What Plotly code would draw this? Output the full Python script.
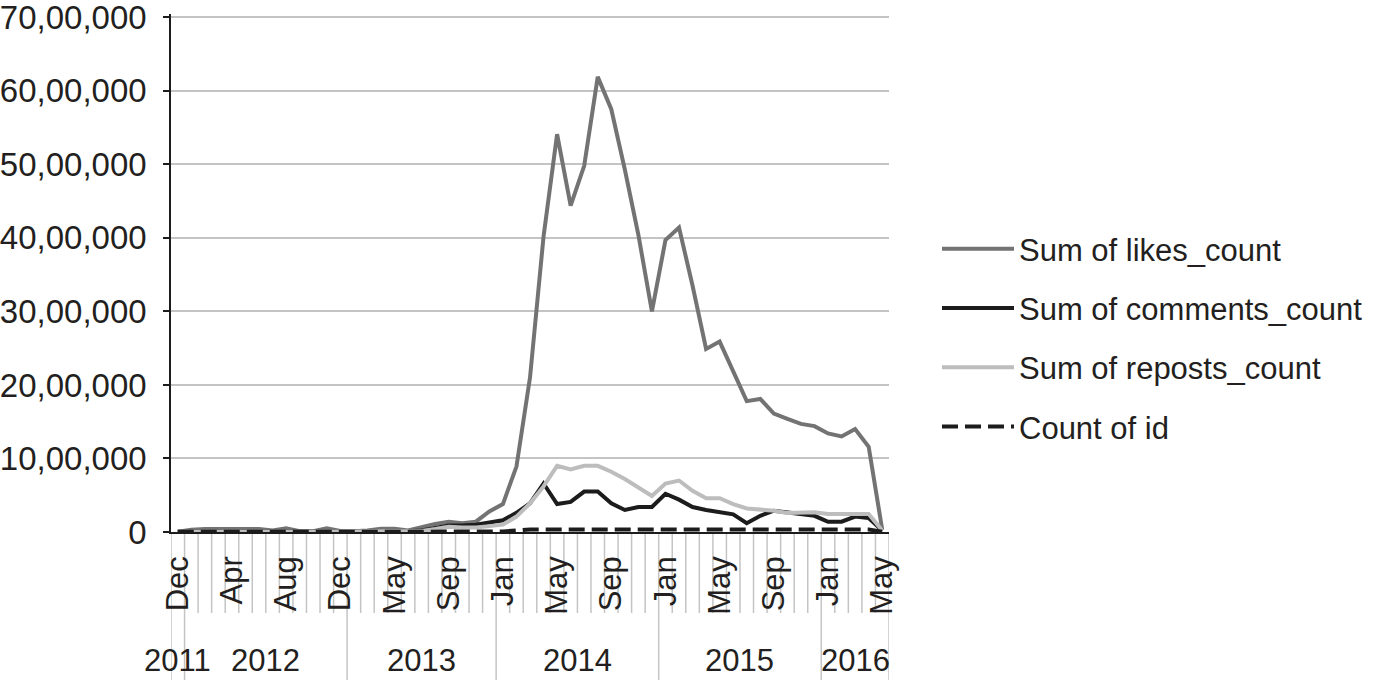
import plotly.graph_objects as go

# ---------------- data ----------------
years = ["2011", "2012", "2013", "2014", "2015", "2016"]
year_months = [
    ["Dec"],
    ["Jan", "Feb", "Mar", "Apr", "May", "Jun", "Jul", "Aug", "Sep", "Oct", "Nov", "Dec"],
    ["Feb", "Mar", "Apr", "May", "Jun", "Jul", "Aug", "Sep", "Oct", "Nov", "Dec"],
    ["Jan", "Feb", "Mar", "Apr", "May", "Jun", "Jul", "Aug", "Sep", "Oct", "Nov", "Dec"],
    ["Jan", "Feb", "Mar", "Apr", "May", "Jun", "Jul", "Aug", "Sep", "Oct", "Nov", "Dec"],
    ["Jan", "Feb", "Mar", "Apr", "May"],
]

likes_count = [
    5000,
    30000, 40000, 40000, 40000, 40000, 40000, 20000, 50000, 10000, 10000, 50000, 15000,
    10000, 20000, 45000, 45000, 20000, 70000, 110000, 140000, 120000, 140000, 280000,
    380000, 890000, 2100000, 4020000, 5410000, 4440000, 4980000, 6190000, 5750000, 4930000, 4040000, 3000000,
    3970000, 4140000, 3350000, 2490000, 2590000, 2200000, 1780000, 1810000, 1610000, 1540000, 1470000, 1440000,
    1340000, 1300000, 1400000, 1160000, 30000,
]
comments_count = [
    2000,
    5000, 5000, 5000, 5000, 5000, 5000, 5000, 5000, 5000, 5000, 5000, 5000,
    5000, 5000, 10000, 10000, 10000, 20000, 50000, 90000, 90000, 100000, 130000,
    160000, 260000, 390000, 660000, 380000, 410000, 550000, 550000, 390000, 300000, 340000, 340000,
    520000, 440000, 340000, 300000, 270000, 240000, 120000, 220000, 290000, 270000, 240000, 220000,
    140000, 140000, 210000, 190000, 20000,
]
reposts_count = [
    2000,
    4000, 4000, 4000, 4000, 4000, 4000, 4000, 4000, 4000, 4000, 4000, 4000,
    4000, 4000, 8000, 8000, 8000, 15000, 40000, 70000, 60000, 60000, 80000,
    100000, 210000, 390000, 620000, 900000, 850000, 900000, 900000, 820000, 720000, 610000, 490000,
    660000, 700000, 560000, 460000, 460000, 380000, 320000, 310000, 290000, 260000, 270000, 270000,
    245000, 245000, 245000, 245000, 20000,
]
count_of_id = [
    2000,
    3000, 3000, 3000, 3000, 3000, 3000, 3000, 3000, 3000, 3000, 3000, 3000,
    3000, 3000, 3000, 3000, 3000, 3000, 3000, 3000, 3000, 3000, 3000,
    8000, 20000, 35000, 35000, 35000, 35000, 35000, 35000, 35000, 35000, 35000, 35000,
    35000, 35000, 35000, 35000, 35000, 35000, 35000, 35000, 35000, 35000, 35000, 35000,
    35000, 35000, 35000, 35000, 5000,
]

y_tick_values = [0, 1000000, 2000000, 3000000, 4000000, 5000000, 6000000, 7000000]
y_tick_labels = ["0", "10,00,000", "20,00,000", "30,00,000", "40,00,000",
                 "50,00,000", "60,00,000", "70,00,000"]
month_label_step = 4

# ---------------- derived categories ----------------
months = [m for ms in year_months for m in ms]
x_idx = list(range(len(months)))
n = len(months)

year_start = []
pos = 0
for ms in year_months:
    year_start.append(pos)
    pos += len(ms)
year_bounds = year_start + [n]

FONT = "Liberation Sans, Arial, Helvetica, sans-serif"
TXT = "#231f20"

FIG_W, FIG_H = 1391, 680
M_L, M_T = 171, 14
PLOT_RIGHT, PLOT_BOTTOM = 889, 532
M_R, M_B = FIG_W - PLOT_RIGHT, FIG_H - PLOT_BOTTOM
PLOT_W = PLOT_RIGHT - M_L
PLOT_H = PLOT_BOTTOM - M_T
# top tick (70,00,000) sits at y=17.3 px; 0 at y=532
Y_TOP = 7000000 + (17.3 - M_T) / ((PLOT_BOTTOM - 17.3) / 7.0) * 1000000

fig = go.Figure()
series = [
    ("Sum of likes_count", likes_count, "#737373", "solid", 4),
    ("Sum of comments_count", comments_count, "#1c1c1c", "solid", 4),
    ("Sum of reposts_count", reposts_count, "#bdbdbd", "solid", 4),
    ("Count of id", count_of_id, "#1c1c1c", "16px,7px", 4),
]
for name, vals, col, dash, w in series:
    fig.add_trace(go.Scatter(
        x=x_idx, y=vals, name=name, mode="lines", legendgroup=name,
        line=dict(color=col, width=w, dash=dash),
    ))

shapes = []
for b in range(n + 1):
    is_year = b in year_bounds
    shapes.append(dict(
        type="line", xref="x", yref="paper", layer="below",
        x0=b - 0.5, x1=b - 0.5, y0=0,
        y1=-(M_B / PLOT_H) if is_year else -(81.0 / PLOT_H),
        line=dict(color="#c4c4c4", width=1.5),
    ))

annotations = []
for yr, st, ms in zip(years, year_start, year_months):
    annotations.append(dict(
        text=yr, xref="x", yref="paper", x=st + (len(ms) - 1) / 2.0,
        y=-(128.0 / PLOT_H), xanchor="center", yanchor="middle", showarrow=False,
        font=dict(family=FONT, size=31, color=TXT),
    ))

tick_pos = x_idx[::month_label_step]
tick_txt = months[::month_label_step]

LEG_LEFT = 937
LEG_TOP = 222

fig.update_layout(
    width=FIG_W, height=FIG_H, autosize=False,
    margin=dict(l=M_L, r=M_R, t=M_T, b=M_B, pad=0, autoexpand=False),
    paper_bgcolor="white", plot_bgcolor="white",
    font=dict(family=FONT, size=31, color=TXT),
    shapes=shapes, annotations=annotations,
    showlegend=True,
    legend=dict(
        x=(LEG_LEFT - M_L) / PLOT_W, xanchor="left",
        y=(PLOT_BOTTOM - LEG_TOP) / PLOT_H, yanchor="top",
        font=dict(family=FONT, size=31, color=TXT),
        itemwidth=72, tracegroupgap=16, bgcolor="rgba(0,0,0,0)",
    ),
    xaxis=dict(
        range=[-0.5, n - 0.5], tickmode="array", tickvals=tick_pos, ticktext=tick_txt,
        tickangle=-90, ticks="", showgrid=False, zeroline=False, automargin=False,
        showline=True, linecolor="#1c1c1c", linewidth=1.5,
        ticklabelstandoff=10, tickfont=dict(family=FONT, size=31, color=TXT),
    ),
    yaxis=dict(
        range=[0, Y_TOP], tickmode="array", tickvals=y_tick_values, ticktext=y_tick_labels,
        showgrid=True, gridcolor="#c4c4c4", gridwidth=1.5, zeroline=False, automargin=False,
        showline=True, linecolor="#1c1c1c", linewidth=1.5,
        ticks="outside", ticklen=6, tickwidth=1.5, tickcolor="#1c1c1c",
        ticklabelstandoff=10, ticklabeloverflow="allow",
        tickfont=dict(family=FONT, size=33, color=TXT),
    ),
)

# remove the browser's default page margin so the figure fills the window exactly
fig.write_html(
    "out.html",
    config={"displayModeBar": False},
    post_script="document.body.style.margin='0';document.body.style.overflow='hidden';",
)
